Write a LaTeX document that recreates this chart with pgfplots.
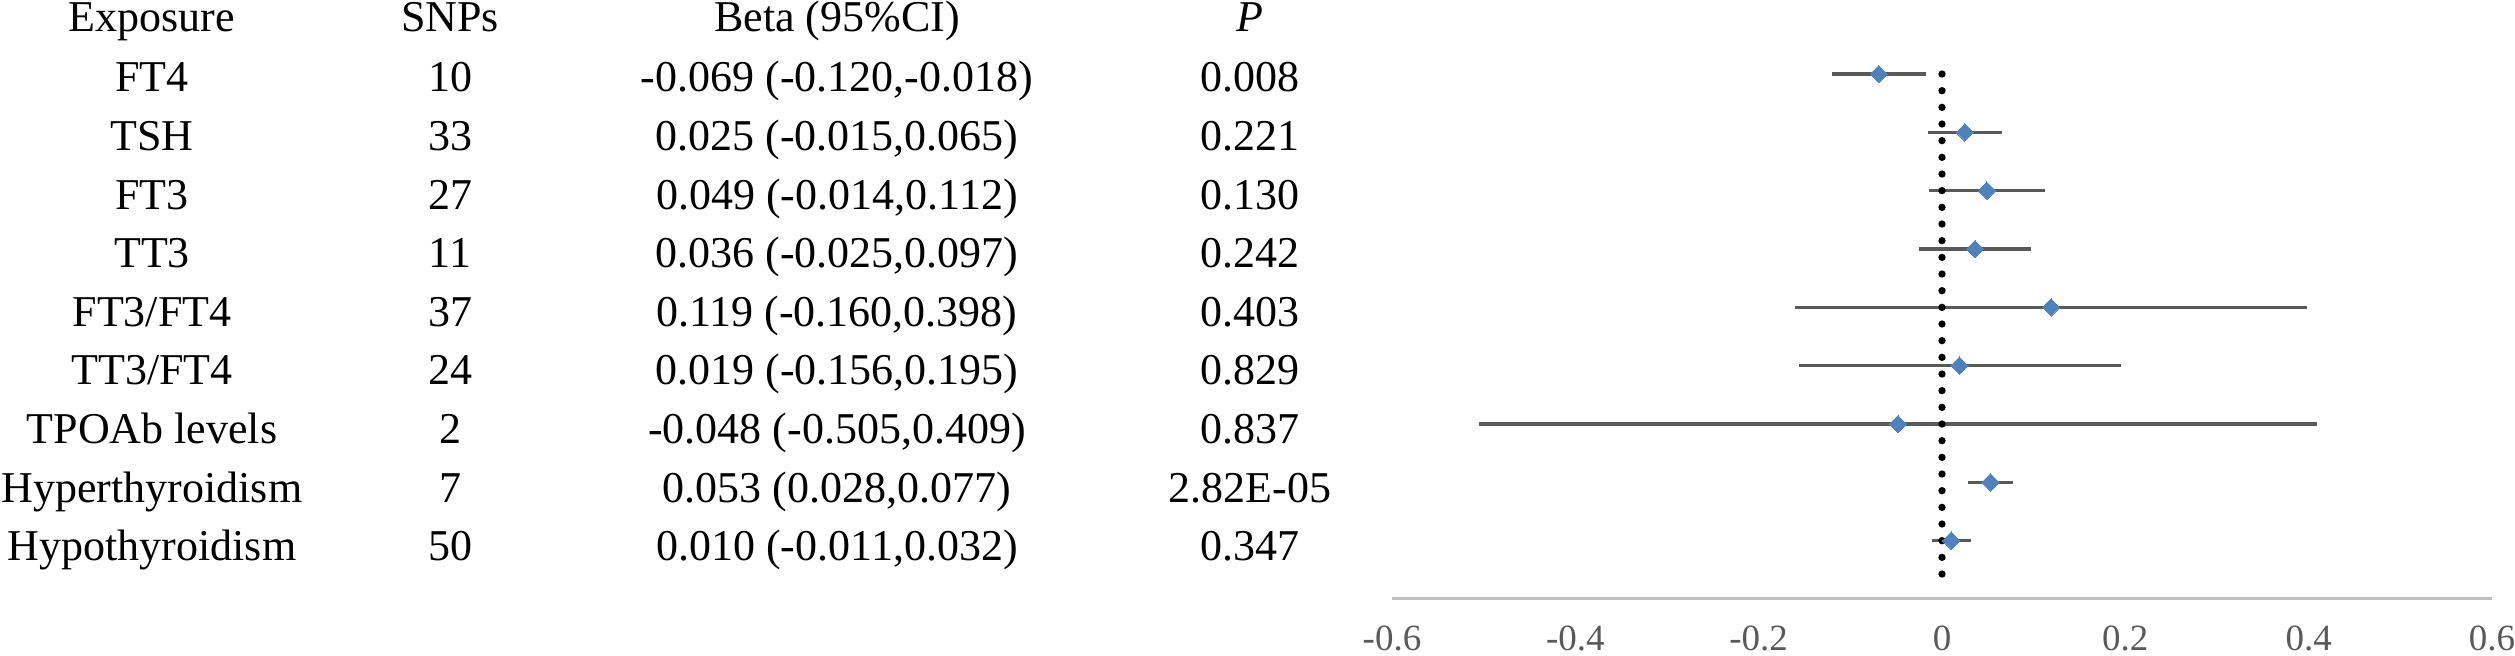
\documentclass[border=0pt]{standalone}
\usepackage{fontspec}
\setmainfont{Liberation Serif}
\usepackage{pgfplots}
\usepackage{pgfplotstable}
\pgfplotsset{compat=1.18}
\definecolor{markblue}{HTML}{4F81BD}
\definecolor{cigray}{HTML}{595959}
\definecolor{axgray}{HTML}{BFBFBF}
\pgfplotstableread{
y beta plus minus
9 -0.069 0.051 0.051
8 0.025 0.040 0.040
7 0.049 0.063 0.063
6 0.036 0.061 0.061
5 0.119 0.279 0.279
4 0.019 0.176 0.175
3 -0.048 0.457 0.457
2 0.053 0.024 0.025
1 0.010 0.022 0.021
}\forest
\begin{document}
\begin{tikzpicture}
\path[use as bounding box] (0,0) rectangle (754.5pt,196.8pt);
\begin{axis}[
  at={(417.6pt,17.1pt)}, anchor=south west,
  scale only axis, width=330pt, height=157.5pt,
  xmin=-0.6, xmax=0.6, ymin=0, ymax=9,
  axis x line*=bottom, axis y line=none,
  x axis line style={draw=axgray, line width=0.9pt, -},
  xtick={-0.6,-0.4,-0.2,0,0.2,0.4,0.6},
  xticklabels={-0.6,-0.4,-0.2,0,0.2,0.4,0.6},
  major tick length=0pt,
  ytick=\empty,
  xticklabel style={font=\rmfamily\fontsize{11.1}{13}\selectfont, text=cigray, anchor=base, yshift=-15.6pt, inner sep=0pt},
  clip=false,
]
\addplot[draw=none, mark=none,
  error bars/.cd, x dir=both, x explicit, error mark=none,
  error bar style={draw=cigray, line width=1pt}]
  table[x=beta, y=y, x error plus=plus, x error minus=minus] {\forest};
\addplot[black, line width=2.2pt, line cap=round, dash pattern=on 0pt off 5pt] coordinates {(0,9) (0,0.2)};
\addplot[markblue, only marks, mark=square*, mark size=1.85pt, mark options={rotate=45, fill=markblue, draw=markblue, line width=0pt}]
  table[x=beta, y=y] {\forest};
\end{axis}
\begin{scope}[every node/.style={anchor=base, inner sep=0pt, font=\rmfamily\fontsize{13.2}{15}\selectfont}]
\node at (45.6pt,187.2pt) {Exposure};
\node at (135pt,187.2pt) {SNPs};
\node at (251.1pt,187.2pt) {Beta (95\%CI)};
\node at (375pt,187.2pt) {\itshape P};
\foreach \lab/\n/\b/\p [count=\k from 0] in {
  FT4/10/{-0.069 (-0.120,-0.018)}/0.008,
  TSH/33/{0.025 (-0.015,0.065)}/0.221,
  FT3/27/{0.049 (-0.014,0.112)}/0.130,
  TT3/11/{0.036 (-0.025,0.097)}/0.242,
  FT3\slash FT4/37/{0.119 (-0.160,0.398)}/0.403,
  TT3\slash FT4/24/{0.019 (-0.156,0.195)}/0.829,
  TPOAb levels/2/{-0.048 (-0.505,0.409)}/0.837,
  Hyperthyroidism/7/{0.053 (0.028,0.077)}/2.82E-05,
  Hypothyroidism/50/{0.010 (-0.011,0.032)}/0.347}{
  \pgfmathsetmacro{\yy}{169.2-17.58*\k}
  \node at (45.6pt,\yy pt) {\lab};
  \node at (135pt,\yy pt) {\n};
  \node at (251.1pt,\yy pt) {\b};
  \node at (375pt,\yy pt) {\p};
}
\end{scope}
\end{tikzpicture}
\end{document}
